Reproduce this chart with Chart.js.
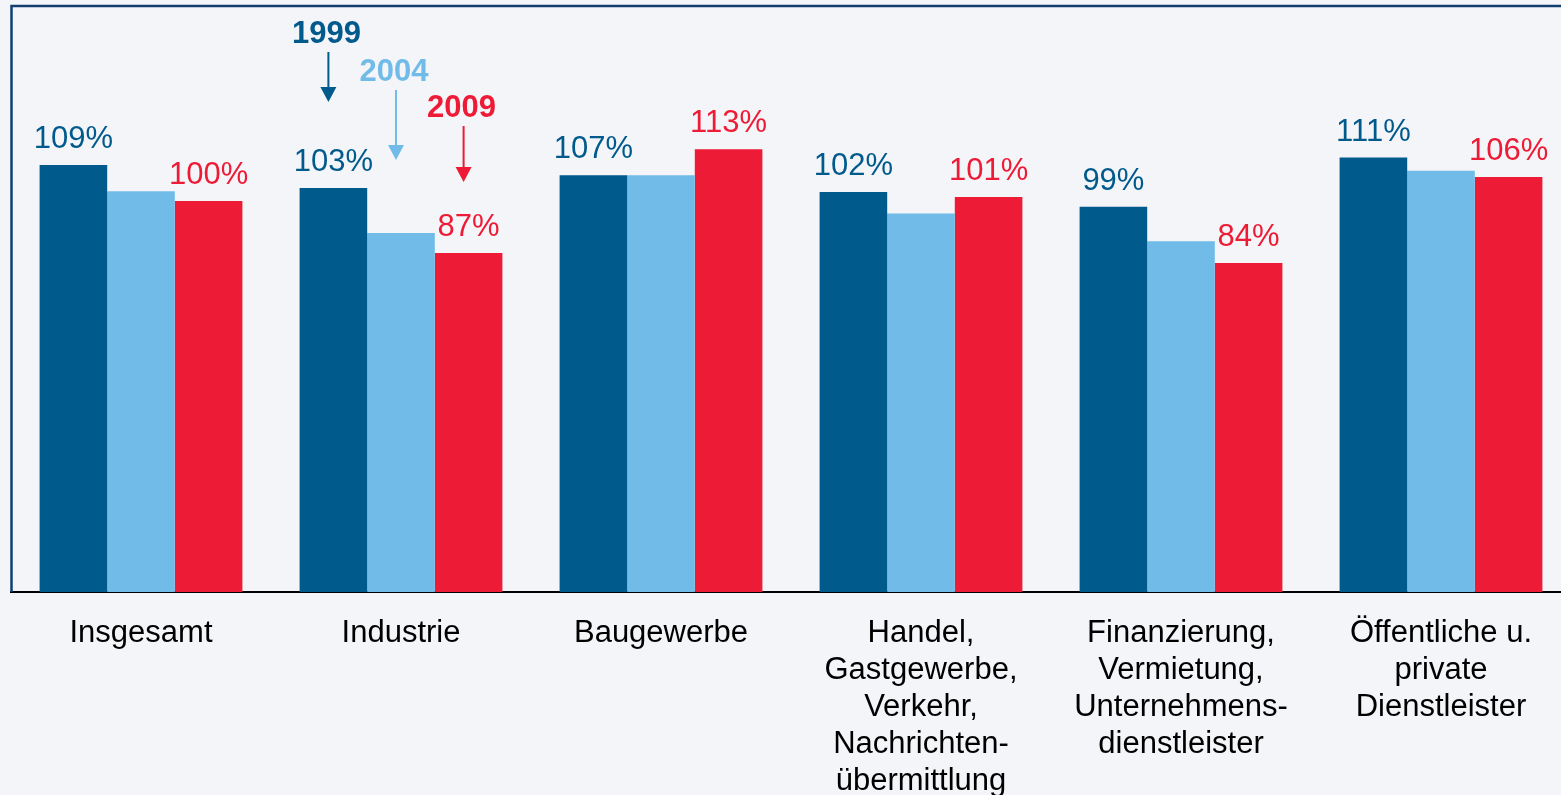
<!DOCTYPE html>
<html>
<head>
<meta charset="utf-8">
<script src="https://cdn.jsdelivr.net/npm/chart.js@4.4.1/dist/chart.umd.min.js"></script>
<style>
  html, body { margin: 0; padding: 0; background: #f4f5f8; overflow: hidden; }
  #wrap { width: 1571px; height: 823px; }
</style>
</head>
<body>
<div id="wrap"><canvas id="chart" width="1571" height="823"></canvas></div>
<script>
// categories (multi-line like the original slide)
const categories = [
  ['Insgesamt'],
  ['Industrie'],
  ['Baugewerbe'],
  ['Handel,', 'Gastgewerbe,', 'Verkehr,', 'Nachrichten-', 'übermittlung'],
  ['Finanzierung,', 'Vermietung,', 'Unternehmens-', 'dienstleister'],
  ['Öffentliche u.', 'private', 'Dienstleister']
];

const years = ['1999', '2004', '2009'];

// values in %
const values1999 = [109.3, 103.4, 106.7, 102.4, 98.6, 111.2];
const values2004 = [102.6, 91.9, 106.7, 96.9, 89.8, 107.8];
const values2009 = [100.1, 86.8, 113.3, 101.1, 84.2, 106.2];

const colors = ['#005a8c', '#70bbe8', '#ee1b36'];
const FONT = '"Liberation Sans", Arial, sans-serif';

// value labels above 1999 and 2009 bars
const valueLabels = {
  id: 'valueLabels',
  afterDatasetsDraw(chart) {
    const ctx = chart.ctx;
    ctx.save();
    ctx.font = '31px ' + FONT;
    ctx.textAlign = 'center';
    ctx.textBaseline = 'alphabetic';
    [0, 2].forEach(di => {
      const meta = chart.getDatasetMeta(di);
      ctx.fillStyle = colors[di];
      meta.data.forEach((bar, i) => {
        const v = chart.data.datasets[di].data[i];
        ctx.fillText(Math.round(v) + '%', bar.x, bar.y - 17);
      });
    });
    ctx.restore();
  }
};

// frame round the plot + year arrows over "Industrie"
const frameAndArrows = {
  id: 'frameAndArrows',
  afterDraw(chart) {
    const ctx = chart.ctx;
    const a = chart.chartArea;
    ctx.save();
    ctx.strokeStyle = '#123f70';
    ctx.lineWidth = 2.5;
    ctx.beginPath();
    ctx.moveTo(a.left + 0.5, a.bottom);
    ctx.lineTo(a.left + 0.5, a.top);
    ctx.lineTo(a.right, a.top);
    ctx.stroke();

    // year tags: [text baseline, arrow start, arrow tip] relative to chart top
    const tags = [[37, 46, 96], [75, 84, 154], [111, 120, 176]];
    tags.forEach((t, di) => {
      const bar = chart.getDatasetMeta(di).data[1];
      const x = bar.x - 5;
      ctx.fillStyle = colors[di];
      ctx.strokeStyle = colors[di];
      ctx.font = 'bold 31px ' + FONT;
      ctx.textAlign = 'center';
      ctx.fillText(years[di], x - 2, a.top + t[0]);
      ctx.lineWidth = 2;
      ctx.beginPath();
      ctx.moveTo(x, a.top + t[1]);
      ctx.lineTo(x, a.top + t[2] - 12);
      ctx.stroke();
      ctx.beginPath();
      ctx.moveTo(x - 8, a.top + t[2] - 15);
      ctx.lineTo(x + 8, a.top + t[2] - 15);
      ctx.lineTo(x, a.top + t[2]);
      ctx.closePath();
      ctx.fill();
    });
    ctx.restore();
  }
};

new Chart(document.getElementById('chart'), {
  type: 'bar',
  data: {
    labels: categories,
    datasets: [
      { label: years[0], data: values1999, backgroundColor: colors[0] },
      { label: years[1], data: values2004, backgroundColor: colors[1] },
      { label: years[2], data: values2009, backgroundColor: colors[2] }
    ]
  },
  options: {
    responsive: false,
    animation: false,
    layout: { padding: { left: 11, top: 6, right: 0, bottom: 0 } },
    datasets: { bar: { categoryPercentage: 0.78, barPercentage: 1.0 } },
    scales: {
      x: {
        grid: { display: false, drawTicks: false },
        border: { display: true, color: '#000', width: 2 },
        ticks: {
          color: '#000',
          font: { family: FONT, size: 31, lineHeight: 37 / 31 },
          padding: 23,
          autoSkip: false,
          maxRotation: 0
        }
      },
      y: {
        display: false,
        min: 0,
        max: 150
      }
    },
    plugins: {
      legend: { display: false },
      tooltip: { enabled: false }
    }
  },
  plugins: [valueLabels, frameAndArrows]
});
</script>
</body>
</html>
